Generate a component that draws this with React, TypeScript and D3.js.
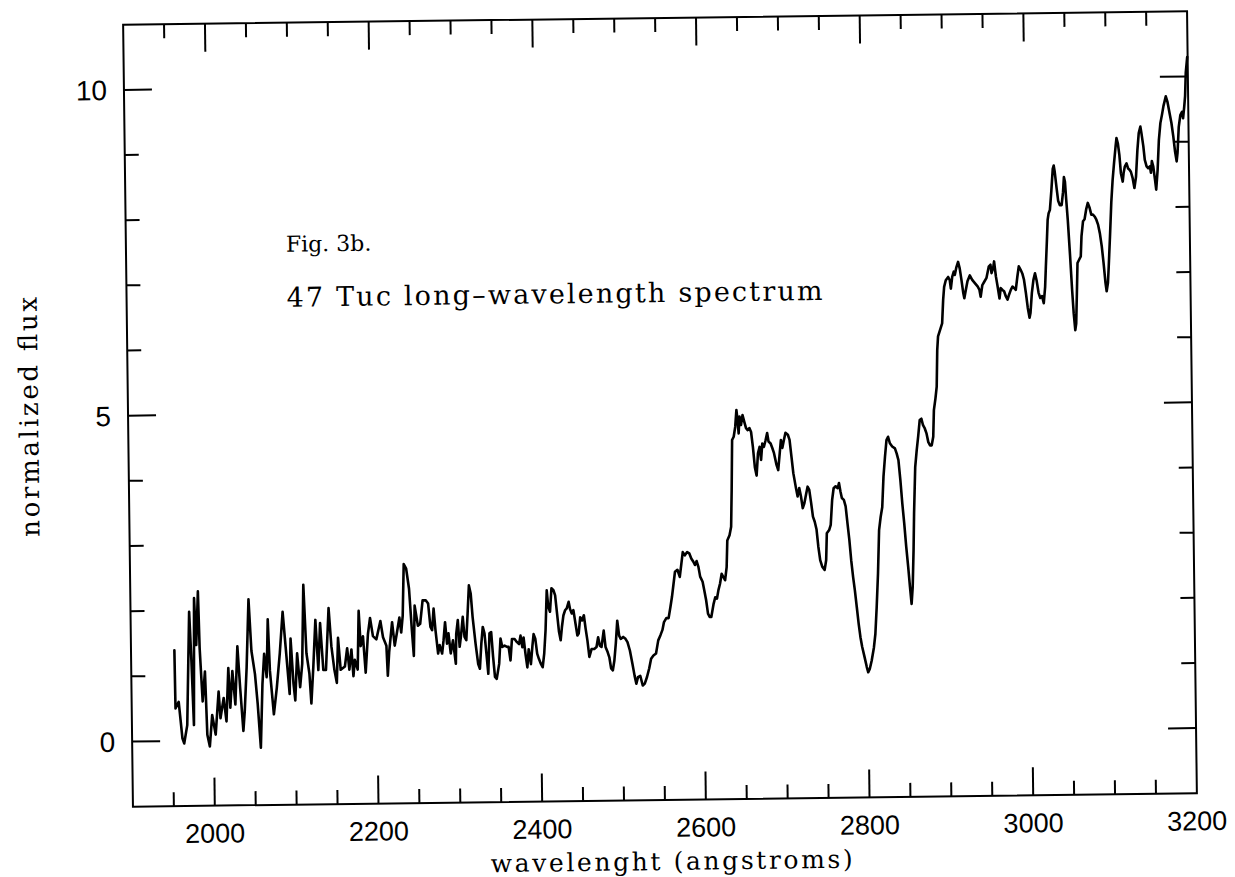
import React from 'react';
import * as d3 from 'd3';

// 47 Tuc long-wavelength spectrum
const wavelength = [
  1953, 1953.5, 1957.5, 1961.5, 1963.6, 1967.6, 1971.6, 1973.7, 1975.8, 1977.8, 1979.8, 1982.6, 1983.9, 1986.8, 1990, 1992, 1994.9, 1998.2,
  2002.2, 2006.4, 2008.3, 2012.5, 2015.6, 2018.6, 2020.5, 2023.5, 2026.7, 2030, 2032.8, 2036.1, 2038.1, 2041, 2044.3, 2047.1, 2051.1, 2054,
  2057.2, 2060.1, 2062.6, 2065.4, 2067.5, 2069.4, 2073.6, 2077.6, 2081.7, 2085.8, 2089, 2093.2, 2095.1, 2098, 2100, 2102.9, 2106.1, 2109,
  2111.5, 2114.3, 2117.6, 2119.6, 2122.5, 2125.7, 2128.6, 2131.4, 2134.7, 2137.9, 2142, 2144.9, 2148.2, 2151, 2153.1, 2155.9, 2161.1, 2164.1,
  2166.5, 2169.3, 2171.4, 2173.3, 2176.7, 2178.7, 2180.7, 2183.6, 2186.4, 2189.7, 2192.5, 2195.8, 2199.9, 2205.1, 2208.1, 2212.1, 2213.4,
  2215.4, 2219.4, 2222.3, 2225.2, 2228.4, 2230.4, 2232.5, 2234.5, 2237.4, 2240.6, 2243.5, 2245.5, 2247.2, 2250.9, 2253.7, 2257,
  2260.8, 2263.7, 2266.2, 2268.2, 2270.3, 2272.3, 2275.2, 2277.2, 2280.1, 2282, 2284.1, 2286.2, 2288.1, 2290.6, 2293.5, 2296.7, 2297.6,
  2299.7, 2301.6, 2303.7, 2305.8, 2307.7, 2309.8, 2311.8, 2313.8, 2315.9, 2317.9, 2321.1, 2324, 2326, 2328.1, 2330.1, 2332.1, 2334.2,
  2336.2, 2338.2, 2340.3, 2342.3, 2344.3, 2346.4, 2349.6, 2351.6, 2353.7, 2356.5, 2359.5, 2361.4, 2363.5, 2365.6, 2368.8, 2371.7, 2374.2,
  2376.1, 2378.2, 2379.8, 2381.9, 2384, 2385.9, 2388.4, 2390.5, 2392.1, 2394.1, 2396.2, 2398.2, 2400.3, 2402.7, 2404.8, 2406.8, 2408.8,
  2410.4, 2412.5, 2414.6, 2417, 2419, 2421.1, 2423.2, 2425.1, 2426.8, 2428.8, 2430.9, 2433, 2435.4, 2437, 2439.1, 2441.1, 2443.5, 2445.6,
  2447.2, 2449.3, 2451.7, 2453.8, 2455.8, 2457.8, 2459.9, 2462.7, 2466, 2468.8, 2470.9, 2472.9, 2474.9, 2477.8, 2479.8, 2482.3, 2484.3,
  2486.3, 2488.4, 2490.4, 2492.4, 2494.5, 2496.6, 2498.5, 2501.5, 2504.3, 2506.7, 2509.5, 2512.5, 2514.9, 2516.9, 2519, 2521.8, 2524.7,
  2527.2, 2530, 2532.8, 2535.3, 2538.2, 2541.4, 2544.3, 2547.1, 2549.6, 2551.6, 2554.5, 2557.3, 2559.7, 2561.8, 2563.9, 2565.8, 2568.8,
  2571.6, 2573.7, 2575.6, 2578.1, 2581, 2583.5, 2585.9, 2588.4, 2590.3, 2592.4, 2594.5, 2596.5, 2599.4, 2601.3, 2603.4, 2605.5, 2607.5, 2609.5,
  2612.5, 2614.6, 2616.7, 2618.6, 2620.7, 2622.8, 2624.8, 2626.9, 2629, 2630.2, 2633, 2635.1, 2636.3, 2637.6, 2639.6, 2641.6, 2643.3,
  2644.5, 2645.7, 2647, 2648.7, 2650.7, 2652.7, 2654.8, 2656.8, 2658.9, 2660.9, 2662.9, 2665, 2667, 2669, 2671.1, 2672.7, 2674.4, 2676.4,
  2678.5, 2680.5, 2682.1, 2684.6, 2686.6, 2688.6, 2691.5, 2693.5, 2695.6, 2697.2, 2698.9, 2700.9, 2702.9, 2705.8, 2707.8, 2709.9, 2711.9,
  2714.9, 2716.8, 2718.9, 2720.9, 2722.9, 2725, 2727.1, 2729.1, 2731.1, 2733.2, 2735.2, 2737.3, 2739.4, 2741.3, 2743.4, 2745.8, 2748.7,
  2750.7, 2751.9, 2754.8, 2756.8, 2758.9, 2760.9, 2763.4, 2765.9, 2767.5, 2769.2, 2770.8, 2773.2, 2775.3, 2777.3, 2779.3, 2781.3, 2783.4,
  2785.3, 2787.4, 2789.4, 2791.4, 2793.4, 2796.2, 2798.7, 2800.4, 2802.3, 2804.8, 2807.7, 2809.7, 2811.7, 2813.8, 2815.8, 2817.9, 2820,
  2822, 2824.1, 2826.2, 2828.2, 2830.3, 2833.1, 2836.4, 2838.5, 2840.5, 2842.6, 2844.6, 2846.6, 2848.7, 2850.8, 2852.7, 2854.4, 2856,
  2857.6, 2858.8, 2860.9, 2863, 2865, 2867.1, 2869.2, 2871.1, 2873.2, 2875.3, 2877.3, 2879.4, 2881.4, 2883.4, 2884.6, 2886.7, 2888.4,
  2889.6, 2890.8,
  2896, 2897.6, 2899, 2901.1, 2904.1, 2906, 2907.2, 2909, 2911, 2912.2, 2914.3, 2916.4, 2918.3, 2920.3, 2922.3, 2923.5, 2925.5, 2927.6,
  2930.5, 2933.4, 2936.6, 2939.9, 2942, 2943.5, 2945.7, 2948.1, 2950.9, 2953.8, 2955.9, 2957.1, 2959.2, 2960.4, 2962.4, 2964.4, 2966.5,
  2968.1, 2970.2, 2972.2, 2974.3, 2976.3, 2978.3, 2980.4, 2982.5, 2984.4, 2986.5, 2988.6, 2990.5, 2992.6, 2994.7, 2996.7, 2998.8, 3000.9,
  3002.9, 3004.1, 3006.1, 3008.2, 3010.2, 3012.2, 3014.3, 3016.3, 3018.4, 3020.5, 3022.4, 3023.6, 3025.3, 3026.5, 3027.8, 3029.4, 3031.5,
  3033.5, 3034.7, 3035.9, 3038, 3039.6, 3041.7, 3043.8, 3045.7, 3047, 3048.2, 3049.4, 3051.1, 3053.2, 3055.3, 3056.9, 3058.6, 3059.8,
  3061.1, 3062.3, 3064.3, 3066.4, 3067.6, 3069.7, 3071.6, 3073.7, 3075.8, 3077.8, 3079.9, 3081.9, 3083.9, 3086, 3088.1, 3090.1, 3092.2,
  3094.2, 3096.2, 3097.5, 3099.2, 3100.4, 3102.4, 3104.5, 3106.5, 3108.5, 3110.6, 3111.8, 3113.4, 3115.1, 3116.7, 3118.8, 3120, 3121.6,
  3123.7, 3125.6, 3127.3, 3128.9, 3131, 3133, 3135.1, 3137.2, 3139.1, 3141.2, 3142.4, 3144.5, 3146.1, 3148.2, 3150.1, 3152.2, 3153.4,
  3154.7, 3156.3, 3158.3, 3159.6, 3161.6, 3163.6, 3165.7, 3167.8, 3169.7, 3172.7, 3174.6, 3177.1, 3179.2, 3181.3, 3183.2, 3185, 3186.2,
  3188.1, 3190.2, 3192.3, 3193.5, 3195.1, 3196.3, 3197.5, 3199.5,
];

const flux = [
  1.39, 0.5, 0.6, 0.04, -0.04, 0.24, 1.98, 1.21, 0.24, 2.19, 1.47, 2.29, 1.42, 0.6, 1.06, 0.09, -0.09, 0.39,
  0.09, 0.75, 0.34, 0.65, 0.29, 1.11, 0.5, 1.06, 0.55, 1.44, 0.8, 0.14, 0.45, 1.11, 2.16, 1.37, 1.01, 0.55,
  -0.12, 0.86, 1.32, 0.96, 1.85, 1.06, 0.39, 0.8, 1.32, 1.96, 1.42, 0.7, 1.55, 0.86, 0.6, 1.32, 0.8, 1.16,
  2.37, 1.32, 1.01, 0.55, 1.11, 1.83, 1.06, 1.78, 1.06, 1.06, 2.01, 1.42, 1.06, 0.86, 1.55, 1.06, 1.11, 1.39,
  1.06, 1.37, 0.96, 1.21, 1.06, 1.96, 1.42, 1.57, 1.01, 1.6, 1.85, 1.57, 1.52, 1.8, 1.55, 1.42, 0.96,
  1.32, 1.78, 1.42, 1.62, 1.85, 1.62, 1.88, 2.67, 2.6, 2.29, 1.65, 1.26, 2.03, 1.72, 1.75, 2.11,
  2.11, 2.06, 1.7, 1.65, 1.98, 1.65, 1.29, 1.42, 1.29, 1.49, 1.77, 1.44, 1.6, 1.29, 1.49, 1.13, 1.59,
  1.8, 1.39, 1.59, 1.85, 1.54, 1.49, 1.9, 2.33, 2.2, 1.84, 1.43, 1.12, 1.05, 1.43, 1.69, 1.59, 1.28,
  0.97, 1.59, 1.61, 1.23, 0.92, 0.89, 1.12, 1.51, 1.38, 1.4, 1.38, 1.38, 1.17, 1.5, 1.5, 1.45, 1.42,
  1.55, 1.37, 1.52, 1.27, 1.06, 1.34, 1.11, 1.39, 1.57, 1.5, 1.27, 1.19, 1.12, 1.06, 1.27, 1.63, 2.24,
  1.99, 1.91, 2.27, 2.24, 2.16, 1.88, 1.6, 1.47, 1.67, 1.85, 1.93, 1.96, 2.06, 1.95, 1.88, 1.93, 1.72, 1.54,
  1.57, 1.82, 1.77, 1.85, 1.64, 1.46, 1.21, 1.33, 1.33, 1.36, 1.51, 1.38, 1.36, 1.61, 1.36, 1.28, 1.2,
  1.03, 1.0, 1.15, 1.41, 1.76, 1.53, 1.48, 1.51, 1.48, 1.43, 1.3, 1.09, 0.91, 0.79, 0.89, 0.91, 0.76,
  0.79, 0.89, 1.02, 1.17, 1.22, 1.25, 1.45, 1.53, 1.61, 1.73, 1.79, 1.79, 1.96, 2.12, 2.32, 2.5, 2.53,
  2.42, 2.62, 2.8, 2.75, 2.8, 2.78, 2.7, 2.65, 2.6, 2.66, 2.57, 2.42, 2.34, 2.21, 2.06, 1.85, 1.8, 1.8,
  2.0, 2.1, 2.08, 2.21, 2.31, 2.46, 2.41, 2.36, 2.56, 2.97, 3.05, 3.18, 3.74, 4.51, 4.56, 4.71, 4.97,
  4.82, 4.61, 4.87, 4.74, 4.89, 4.79, 4.69, 4.66, 4.69, 4.63, 4.4, 4.09, 3.96, 4.3, 4.4, 4.2, 4.45, 4.4,
  4.5, 4.61, 4.48, 4.45, 4.38, 4.3, 4.12, 4.04, 4.3, 4.5, 4.38, 4.5, 4.61, 4.58, 4.5, 4.24, 3.99,
  3.76, 3.63, 3.76, 3.63, 3.45, 3.53, 3.66, 3.78, 3.73, 3.53, 3.32, 3.24, 3.12, 2.86, 2.65, 2.55, 2.5,
  2.65, 3.06, 3.11, 3.19, 3.57, 3.75, 3.78, 3.75, 3.83, 3.7, 3.6, 3.57, 3.47, 3.21, 2.96, 2.64, 2.38,
  2.18, 1.92, 1.67, 1.46, 1.31, 1.15, 1.0, 0.92, 0.97, 1.1, 1.3, 1.51, 1.92, 2.43, 3.1, 3.3, 3.45,
  3.92, 4.22, 4.48, 4.53, 4.43, 4.38, 4.35, 4.27, 4.17, 3.86, 3.5, 3.2, 2.84, 2.53, 2.22, 1.96, 2.22,
  2.78, 3.35, 4.06, 4.32, 4.53, 4.78, 4.8, 4.7, 4.65, 4.57, 4.44, 4.39, 4.39, 4.52, 4.93, 5.11, 5.29,
  5.85, 6.06,
  6.26, 6.62, 6.82, 6.92, 6.97, 6.92, 6.79, 6.97, 7.05, 7.0, 7.12, 7.2, 7.1, 6.92, 6.72, 6.64, 6.77, 6.9,
  6.99, 6.92, 6.87, 6.82, 6.77, 6.66, 6.84, 6.89, 6.95, 7.12, 7.15, 7.02, 7.1, 7.2, 6.97, 6.81, 6.63,
  6.79, 6.76, 6.74, 6.66, 6.61, 6.69, 6.76, 6.81, 6.79, 6.76, 6.96, 7.12, 7.07, 7.01, 6.91, 6.71, 6.48,
  6.33, 6.4, 6.71, 6.91, 7.01, 6.89, 6.71, 6.63, 6.66, 6.55, 6.8, 7.11, 7.52, 7.83, 7.93, 7.98, 8.28,
  8.61, 8.66, 8.56, 8.3, 8.12, 8.05, 8.05, 8.25, 8.48, 8.41, 8.15, 7.82, 7.31, 6.75, 6.39, 6.13, 6.23,
  6.7, 7.16, 7.21, 7.26, 7.57, 7.8, 7.83, 7.98, 8.08, 8.01, 7.9, 7.9, 7.87, 7.82, 7.74, 7.61, 7.41,
  7.15, 6.85, 6.72, 6.85, 7.1, 7.56, 8.08, 8.43, 8.69, 8.94, 9.07, 8.99, 8.81, 8.53, 8.4, 8.53, 8.63,
  8.68, 8.6, 8.58, 8.55, 8.45, 8.3, 8.47, 8.88, 9.14, 9.24, 9.14, 8.94, 8.73, 8.63, 8.6, 8.63, 8.53,
  8.71, 8.63, 8.42, 8.27, 8.57, 9.03, 9.29, 9.42, 9.55, 9.7, 9.62, 9.44, 9.29, 9.08, 8.85, 8.7, 8.83,
  9.23, 9.41, 9.46, 9.36, 9.54, 9.7, 10.06, 10.3,
];

const xTickLabels = [2000, 2200, 2400, 2600, 2800, 3000, 3200];
const yTickLabels = [0, 5, 10];
const xTitle = 'wavelenght (angstroms)';
const yTitle = 'normalized flux';
const figNote = 'Fig. 3b.';
const figCaption = '47 Tuc long–wavelength spectrum';

export default function App() {
  const width = 1235;
  const height = 877;
  // plot frame before the slight scan rotation
  const left = 128, right = 1192, top = 18, bottom = 800;

  const x = d3.scaleLinear().domain([1900, 3200]).range([left, right]);
  const y = d3.scaleLinear().domain([-1, 11]).range([bottom, top]);

  const pts: [number, number][] = wavelength.map((w, i) => [w, flux[i]]);
  const spectrum = d3.line<[number, number]>()
    .x(d => x(d[0]))
    .y(d => y(d[1]))(pts);

  const xTicks = d3.range(1950, 3200, 50);
  const yTicks = d3.range(0, 11, 1);
  const major = 28, minor = 14;

  const sans = '"Liberation Sans", Arial, Helvetica, sans-serif';
  const serif = '"DejaVu Serif", "Liberation Serif", serif';

  return (
    <svg width={width} height={height}
      style={{ position: 'absolute', left: 0, top: 0, display: 'block', background: '#fff' }}>
      <g transform="rotate(-0.72 660 409)">
        {/* frame */}
        <rect x={left} y={top} width={right - left} height={bottom - top}
          fill="none" stroke="#000" strokeWidth={2} />

        {/* x ticks, bottom and top */}
        {xTicks.map(t => {
          const len = t % 200 === 0 ? major : minor;
          return (
            <g key={'x' + t} stroke="#000" strokeWidth={2}>
              <line x1={x(t)} x2={x(t)} y1={bottom} y2={bottom - len} />
              <line x1={x(t)} x2={x(t)} y1={top} y2={top + len} />
            </g>
          );
        })}

        {/* y ticks, left and right */}
        {yTicks.map(t => {
          const len = t % 5 === 0 ? major : minor;
          return (
            <g key={'y' + t} stroke="#000" strokeWidth={2}>
              <line x1={left} x2={left + len} y1={y(t)} y2={y(t)} />
              <line x1={right} x2={right - len} y1={y(t)} y2={y(t)} />
            </g>
          );
        })}

        {xTickLabels.map(t => (
          <text key={'xl' + t} x={x(t)} y={bottom + 37} textAnchor="middle"
            fontFamily={sans} fontSize={27} fill="#000">{t}</text>
        ))}
        {yTickLabels.map(t => (
          <text key={'yl' + t} x={left - 17} y={y(t)} dy="0.36em" textAnchor="end"
            fontFamily={sans} fontSize={28} fill="#000">{t}</text>
        ))}

        <text x={666} y={bottom + 70} textAnchor="middle" fontFamily={serif} fontSize={25}
          textLength={362} lengthAdjust="spacing" fill="#000">{xTitle}</text>
        <text transform={`translate(38, ${(top + bottom) / 2}) rotate(-90)`} textAnchor="middle"
          fontFamily={serif} fontSize={26} textLength={240} lengthAdjust="spacing" fill="#000">{yTitle}</text>

        <text x={288} y={247} fontFamily={serif} fontSize={22} fill="#000">{figNote}</text>
        <text x={288} y={302} fontFamily={serif} fontSize={27} textLength={536}
          lengthAdjust="spacing" fill="#000">{figCaption}</text>

        {/* spectrum */}
        <path d={spectrum ?? ''} fill="none" stroke="#000" strokeWidth={2.6}
          strokeLinejoin="round" strokeLinecap="round" />
      </g>
    </svg>
  );
}
